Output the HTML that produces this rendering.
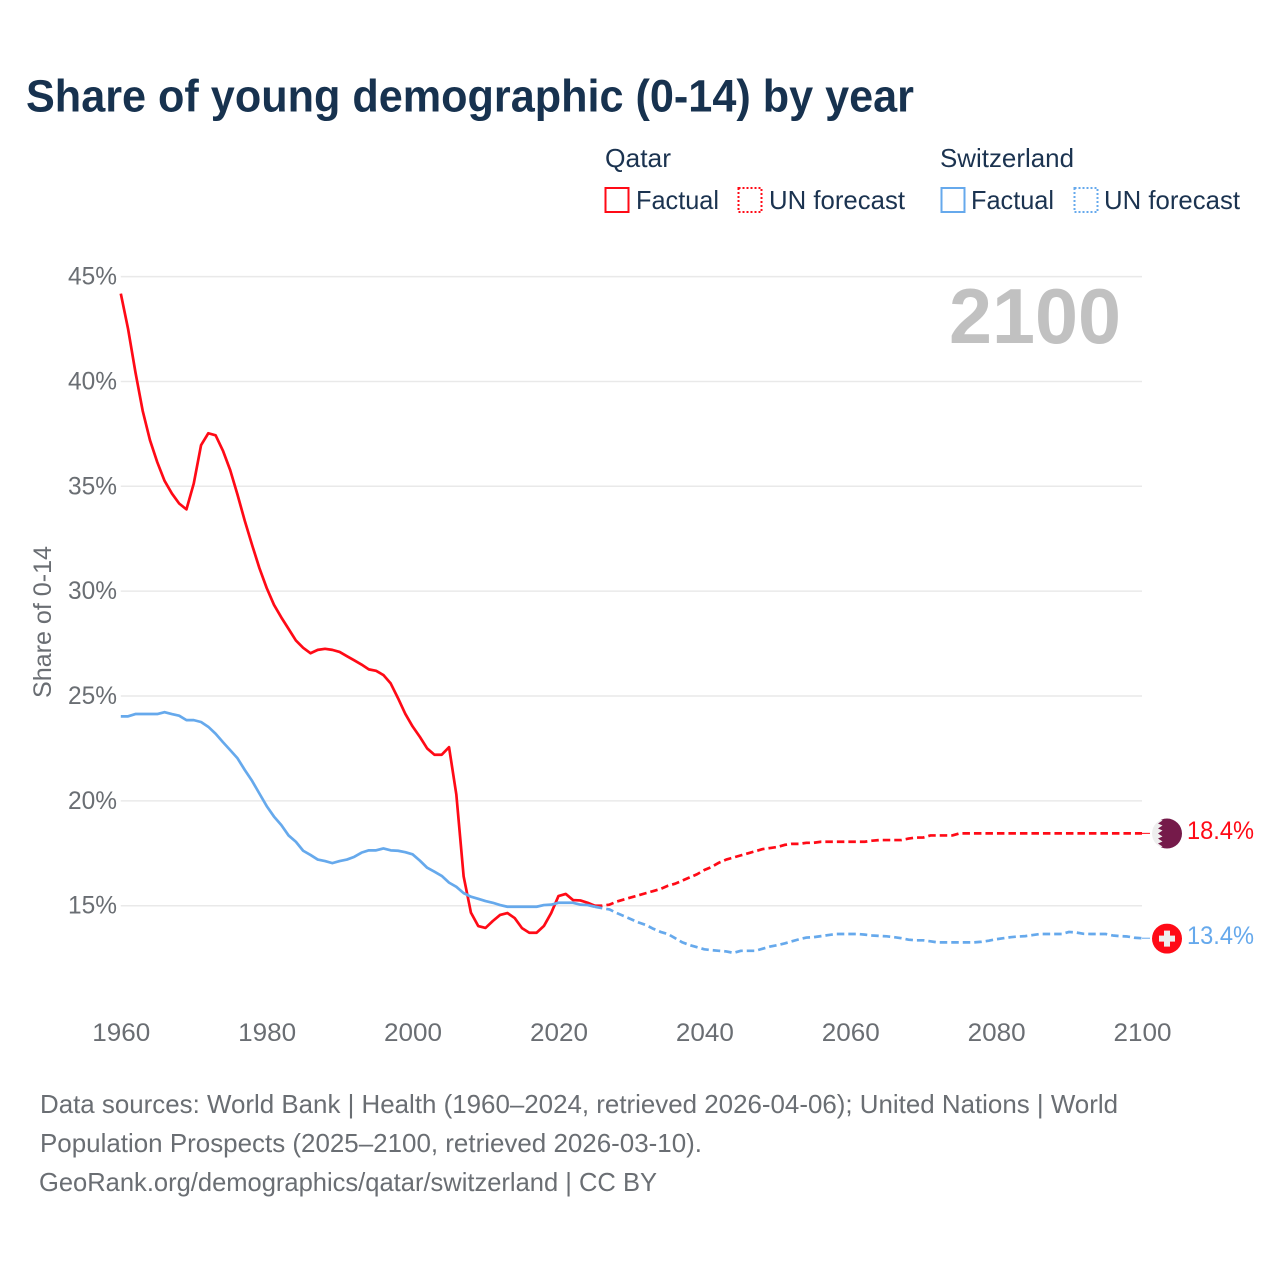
<!DOCTYPE html>
<html lang="en">
<head>
<meta charset="utf-8">
<title>Share of young demographic (0-14) by year</title>
<style>
html,body{margin:0;padding:0;background:#fff;}
svg{display:block;}
text{font-family:"Liberation Sans",sans-serif;}
</style>
</head>
<body>
<svg id="chart" xmlns="http://www.w3.org/2000/svg" width="1280" height="1280" viewBox="0 0 1280 1280">
  <rect x="0" y="0" width="1280" height="1280" fill="#ffffff"/>
  <text x="26" y="111.5" font-size="45" font-weight="700" fill="#17324f" textLength="888" lengthAdjust="spacingAndGlyphs">Share of young demographic (0-14) by year</text>

  <g font-size="26" fill="#1b3350">
    <text x="605" y="167" textLength="66" lengthAdjust="spacingAndGlyphs">Qatar</text>
    <text x="940" y="167" textLength="134" lengthAdjust="spacingAndGlyphs">Switzerland</text>
    <g>
      <rect x="605.5" y="188" width="23" height="24" fill="none" stroke="#ff0a16" stroke-width="2"/>
      <text x="636" y="209" textLength="83" lengthAdjust="spacingAndGlyphs">Factual</text>
    </g>
    <g>
      <rect x="738.5" y="188" width="23" height="24" fill="none" stroke="#ff0a16" stroke-width="2" stroke-dasharray="2 2"/>
      <text x="769" y="209" textLength="136" lengthAdjust="spacingAndGlyphs">UN forecast</text>
    </g>
    <g>
      <rect x="941.5" y="188" width="23" height="24" fill="none" stroke="#66a9ec" stroke-width="2"/>
      <text x="971" y="209" textLength="83" lengthAdjust="spacingAndGlyphs">Factual</text>
    </g>
    <g>
      <rect x="1074.5" y="188" width="23" height="24" fill="none" stroke="#66a9ec" stroke-width="2" stroke-dasharray="2 2"/>
      <text x="1104" y="209" textLength="136" lengthAdjust="spacingAndGlyphs">UN forecast</text>
    </g>
  </g>

  <g id="grid"></g>
  <g id="yticks"></g>
  <g id="xticks"></g>
  <text transform="translate(51,622) rotate(-90)" text-anchor="middle" font-size="25" fill="#6a6e73" textLength="152" lengthAdjust="spacingAndGlyphs">Share of 0-14</text>
  <text x="949" y="343" font-size="78" font-weight="700" fill="#c1c1c1" textLength="172" lengthAdjust="spacingAndGlyphs">2100</text>

  <g id="series"></g>

  <defs>
    <clipPath id="flag-clip"><circle cx="0" cy="0" r="15"/></clipPath>
  </defs>
  <g id="flag-qatar" clip-path="url(#flag-clip)">
    <rect x="-15" y="-15" width="30" height="30" fill="#eeeeee"/>
    <polygon fill="#751a4a" points="15,-15 -9,-15 -4.5,-13 -9,-10 -4.5,-8 -9,-5 -4.5,-3 -9,0 -4.5,3 -9,5 -4.5,8 -9,10 -4.5,13 -9,15 15,15"/>
  </g>
  <g id="flag-swiss" clip-path="url(#flag-clip)">
    <rect x="-15" y="-15" width="30" height="30" fill="#ff0a16"/>
    <rect x="-8" y="-3" width="16" height="6" fill="#eeeeee"/>
    <rect x="-3" y="-8" width="6" height="16" fill="#eeeeee"/>
  </g>
  <g id="endlabels"></g>

  <g font-size="26" fill="#6a6e73">
    <text x="40" y="1113" textLength="1078" lengthAdjust="spacingAndGlyphs">Data sources: World Bank | Health (1960–2024, retrieved 2026-04-06); United Nations | World</text>
    <text x="40" y="1152" textLength="662" lengthAdjust="spacingAndGlyphs">Population Prospects (2025–2100, retrieved 2026-03-10).</text>
    <text x="39" y="1191" textLength="618" lengthAdjust="spacingAndGlyphs">GeoRank.org/demographics/qatar/switzerland | CC BY</text>
  </g>
</svg>

<script>
const yTickValues = [15, 20, 25, 30, 35, 40, 45];
const xTickYears = [1960, 1980, 2000, 2020, 2040, 2060, 2080, 2100];
const factualStartYear = 1960;
const forecastStartYear = 2025;

const qatarFactual = [
  44.19, 42.5, 40.45, 38.6, 37.2, 36.15, 35.26, 34.66, 34.18, 33.9,
  35.13, 36.96, 37.53, 37.43, 36.7, 35.77, 34.6, 33.35, 32.2, 31.1,
  30.15, 29.35, 28.75, 28.2, 27.65, 27.3, 27.04, 27.2, 27.25, 27.2,
  27.1, 26.9, 26.7, 26.5, 26.27, 26.2, 26.0, 25.6, 24.9, 24.15,
  23.55, 23.05, 22.5, 22.2, 22.2, 22.56, 20.3, 16.4, 14.67, 14.03,
  13.94, 14.27, 14.56, 14.65, 14.41, 13.93, 13.71, 13.71, 14.03, 14.65,
  15.46, 15.56, 15.27, 15.25, 15.14, 15.0
];
const switzerlandFactual = [
  24.03, 24.03, 24.14, 24.14, 24.14, 24.14, 24.23, 24.14, 24.06, 23.85,
  23.85, 23.76, 23.53, 23.2, 22.8, 22.42, 22.03, 21.47, 20.95, 20.35,
  19.75, 19.25, 18.85, 18.35, 18.05, 17.62, 17.42, 17.2, 17.13, 17.03,
  17.13, 17.2, 17.33, 17.53, 17.64, 17.64, 17.73, 17.64, 17.62, 17.55,
  17.45, 17.15, 16.81, 16.62, 16.42, 16.1, 15.9, 15.6, 15.43, 15.33,
  15.22, 15.14, 15.03, 14.95, 14.95, 14.95, 14.95, 14.95, 15.03, 15.05,
  15.14, 15.14, 15.14, 15.05, 15.03, 14.95
];
const qatarForecast = [
  15.0, 15.0, 15.05, 15.2, 15.3, 15.4, 15.5, 15.6, 15.7, 15.8,
  15.95, 16.05, 16.2, 16.35, 16.5, 16.7, 16.85, 17.05, 17.2, 17.3,
  17.4, 17.5, 17.6, 17.7, 17.75, 17.8, 17.9, 17.95, 17.95, 18.0,
  18.0, 18.05, 18.05, 18.05, 18.05, 18.05, 18.05, 18.05, 18.1, 18.13,
  18.13, 18.13, 18.13, 18.2, 18.25, 18.25, 18.35, 18.35, 18.35, 18.35,
  18.45, 18.45, 18.45, 18.45, 18.45, 18.45, 18.45, 18.45, 18.45, 18.45,
  18.45, 18.45, 18.45, 18.45, 18.45, 18.45, 18.45, 18.45, 18.45, 18.45,
  18.45, 18.45, 18.45, 18.45, 18.45, 18.45
];
const switzerlandForecast = [
  14.95, 14.88, 14.82, 14.65, 14.5, 14.35, 14.2, 14.08, 13.9, 13.75,
  13.65, 13.45, 13.25, 13.12, 13.02, 12.92, 12.88, 12.85, 12.82, 12.75,
  12.85, 12.85, 12.85, 12.95, 13.05, 13.12, 13.2, 13.3, 13.4, 13.48,
  13.5, 13.55, 13.6, 13.65, 13.65, 13.65, 13.65, 13.62, 13.58, 13.56,
  13.54, 13.5, 13.45, 13.38, 13.35, 13.35, 13.3, 13.25, 13.25, 13.25,
  13.25, 13.25, 13.25, 13.28, 13.33, 13.4, 13.45, 13.5, 13.53, 13.55,
  13.6, 13.65, 13.65, 13.65, 13.65, 13.75, 13.72, 13.66, 13.65, 13.65,
  13.65, 13.58, 13.55, 13.53, 13.47, 13.45
];
const endLabelQatar = "18.4%";
const endLabelSwitzerland = "13.4%";

const NS = "http://www.w3.org/2000/svg";
const RED = "#ff0a16";
const BLUE = "#66a9ec";
const X0 = 120.8, X1 = 1142;
const Y15 = 905.7, PX_PER_PCT = 20.97;

function xScale(year) {
  return X0 + (year - 1960) * (X1 - X0) / 140;
}
function yScale(value) {
  return Y15 - (value - 15) * PX_PER_PCT;
}
function make(tag, attrs, parent, text) {
  const el = document.createElementNS(NS, tag);
  for (const k in attrs) el.setAttribute(k, attrs[k]);
  if (text !== undefined) el.textContent = text;
  parent.appendChild(el);
  return el;
}
function pathFor(values, startYear) {
  return values.map(function (v, i) {
    return (i ? "L" : "M") + xScale(startYear + i).toFixed(2) + " " + yScale(v).toFixed(2);
  }).join(" ");
}

const grid = document.getElementById("grid");
const yticks = document.getElementById("yticks");
yTickValues.forEach(function (v) {
  const line = make("line", { x1: X0, x2: X1, y1: yScale(v), y2: yScale(v), stroke: "#e9e9e9", "stroke-width": 1.5 }, grid);
  
  
  const label = make("text", { x: 117, y: yScale(v) + 8, "text-anchor": "end", "font-size": 25, fill: "#6a6e73", textLength: 49, lengthAdjust: "spacingAndGlyphs" }, yticks, v + "%");
  
  
});

const xticks = document.getElementById("xticks");
xTickYears.forEach(function (yr) {
  const label = make("text", { x: xScale(yr) + 0.5, y: 1041, "text-anchor": "middle", "font-size": 25, fill: "#6a6e73", textLength: 58, lengthAdjust: "spacingAndGlyphs" }, xticks, String(yr));
  
  
});

const series = document.getElementById("series");
function drawSeries(name, color, factual, forecast) {
  const solid = make("path", { d: pathFor(factual, factualStartYear), fill: "none", stroke: color, "stroke-width": 2.7, "stroke-linejoin": "round" }, series);
  
  
  const dashed = make("path", { d: pathFor(forecast, forecastStartYear), fill: "none", stroke: color, "stroke-width": 2.7, "stroke-dasharray": "7.5 4", "stroke-linejoin": "round" }, series);
  
  
  const endY = yScale(forecast[forecast.length - 1]);
  const leader = make("line", { x1: X1, x2: 1150, y1: endY, y2: endY, stroke: color, "stroke-width": 1 }, series);
  
  
  return endY;
}
const endQ = drawSeries("qatar", RED, qatarFactual, qatarForecast);
const endS = drawSeries("switzerland", BLUE, switzerlandFactual, switzerlandForecast);

document.getElementById("flag-qatar").setAttribute("transform", "translate(1167," + (endQ + 0.2) + ")");
document.getElementById("flag-swiss").setAttribute("transform", "translate(1167," + (endS + 0.4) + ")");

const endlabels = document.getElementById("endlabels");
const labelQ = make("text", { x: 1187, y: endQ + 5.7, "font-size": 25, fill: RED, textLength: 67, lengthAdjust: "spacingAndGlyphs" }, endlabels, endLabelQatar);


const labelS = make("text", { x: 1187, y: endS + 6, "font-size": 25, fill: BLUE, textLength: 67, lengthAdjust: "spacingAndGlyphs" }, endlabels, endLabelSwitzerland);


</script>
</body>
</html>
